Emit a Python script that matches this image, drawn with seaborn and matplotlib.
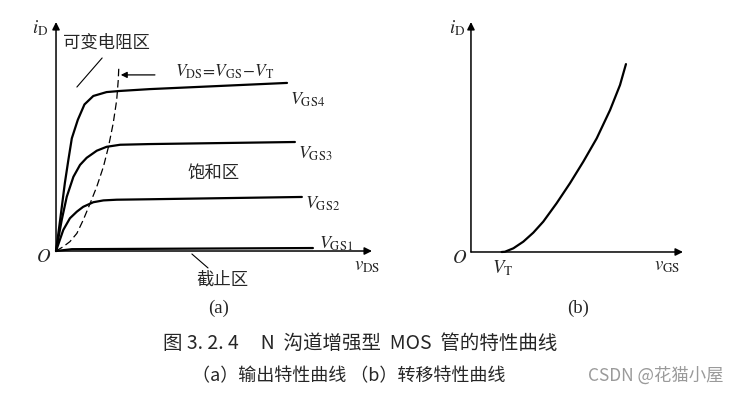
import numpy as np
import pandas as pd
import matplotlib.pyplot as plt
import seaborn as sns

# output characteristics (a): v_DS vs i_D
vds_gs4 = [0, 0.13, 0.28, 0.39, 0.50, 0.69, 0.90, 1.18, 1.60, 2.03, 2.97, 7.31]
id_gs4 = [0, 1.35, 2.97, 3.97, 4.92, 5.73, 6.40, 6.77, 6.94, 6.99, 7.07, 7.34]
vds_gs3 = [0, 0.18, 0.34, 0.55, 0.76, 0.97, 1.29, 1.60, 2.03, 2.97, 7.56]
id_gs3 = [0, 1.35, 2.37, 3.24, 3.76, 4.07, 4.38, 4.55, 4.64, 4.67, 4.76]
vds_gs2 = [0, 0.23, 0.44, 0.66, 0.86, 1.18, 1.50, 1.92, 2.97, 7.78]
id_gs2 = [0, 0.92, 1.43, 1.72, 1.93, 2.13, 2.21, 2.24, 2.26, 2.36]
vds_gs1 = [0, 0.5, 8.13]
id_gs1 = [0, 0.08, 0.13]
# boundary V_DS = V_GS - V_T (dashed)
vds_edge = [0, 0.23, 0.44, 0.66, 0.86, 1.08, 1.29, 1.50, 1.66, 1.81, 1.92, 1.97, 1.99]
id_edge = [0, 0.19, 0.41, 0.77, 1.35, 2.08, 2.81, 3.68, 4.55, 5.58, 6.59, 7.47, 8.12]
curve_labels = [r'$V_{\rm GS4}$', r'$V_{\rm GS3}$', r'$V_{\rm GS2}$', r'$V_{\rm GS1}$']

# transfer characteristic (b): v_GS vs i_D
vgs_tr = [1.45, 1.60, 2.00, 2.47, 2.94, 3.41, 4.04, 4.67, 5.30, 5.93, 6.56, 7.03, 7.31]
id_tr = [0, 0.01, 0.16, 0.45, 0.84, 1.32, 2.12, 2.99, 3.93, 4.94, 6.17, 7.26, 8.17]

sns.set_style('white')
plt.rcParams['mathtext.fontset'] = 'stix'
plt.rcParams['font.family'] = ['Noto Sans CJK SC', 'DejaVu Sans']
cjk = ['Noto Sans CJK SC', 'DejaVu Sans']
serif = ['Liberation Serif', 'DejaVu Serif']

fig = plt.figure(figsize=(7.39, 3.93), dpi=100)
ax1 = fig.add_axes([0.0758, 0.3613, 0.4276, 0.5827])
ax2 = fig.add_axes([0.6373, 0.3588, 0.2869, 0.5852])

for ax in (ax1, ax2):
    ax.set_xlim(0, 10)
    ax.set_ylim(0, 10)
    ax.axis('off')
    ax.annotate('', xy=(1, 0), xytext=(0, 0), xycoords='axes fraction',
                arrowprops=dict(arrowstyle='-|>', color='black', lw=1.1,
                                mutation_scale=11, shrinkA=0, shrinkB=0))
    ax.annotate('', xy=(0, 1), xytext=(0, 0), xycoords='axes fraction',
                arrowprops=dict(arrowstyle='-|>', color='black', lw=1.1,
                                mutation_scale=11, shrinkA=0, shrinkB=0))

# --- (a) output curves
curves = [(vds_gs4, id_gs4), (vds_gs3, id_gs3), (vds_gs2, id_gs2), (vds_gs1, id_gs1)]
for xs, ys in curves:
    sns.lineplot(x=xs, y=ys, ax=ax1, color='black', lw=1.6, sort=False,
                 estimator=None, clip_on=False)
sns.lineplot(x=vds_edge, y=id_edge, ax=ax1, color='black', lw=0.9, sort=False,
             estimator=None, linestyle=(0, (6, 3)), clip_on=False)

for (xs, ys), lab, dx, dy in zip(curves, curve_labels, [0.1, 0.1, 0.1, 0.2],
                                 [-0.75, -0.5, -0.3, 0.2]):
    ax1.text(xs[-1] + dx, ys[-1] + dy, lab, fontsize=13, va='center', ha='left')

ax1.annotate('', xy=(2.05, 7.69), xytext=(3.13, 7.69),
             arrowprops=dict(arrowstyle='-|>', color='black', lw=0.9,
                             mutation_scale=9, shrinkA=0, shrinkB=0))
ax1.text(3.77, 7.82, r'$V_{\rm DS}\!=\!V_{\rm GS}\!-\!V_{\rm T}$', fontsize=12.5,
         va='center', ha='left')
ax1.text(0.22, 9.08, '可变电阻区', fontsize=12.5, family=cjk, va='center', ha='left')
ax1.plot([0.66, 1.46], [7.16, 8.43], color='black', lw=0.8)
ax1.text(4.97, 3.41, '饱和区', fontsize=12.5, family=cjk, va='center', ha='center')
ax1.text(5.25, -1.27, '截止区', fontsize=12.5, family=cjk, va='center', ha='center')
ax1.plot([4.30, 4.81], [-0.13, -0.74], color='black', lw=0.8, clip_on=False)
ax1.text(-0.51, 9.74, r'$i_{\rm D}$', fontsize=13.5, va='center', ha='center')
ax1.text(-0.40, -0.26, r'$O$', fontsize=13.5, va='center', ha='center')
ax1.text(9.84, -0.61, r'$v_{\rm DS}$', fontsize=13.5, va='center', ha='center')
ax1.text(5.13, -2.49, '(a)', fontsize=13.5, family=serif, va='center', ha='center')

# --- (b) transfer curve
sns.lineplot(x=vgs_tr, y=id_tr, ax=ax2, color='black', lw=1.6, sort=False,
             estimator=None, clip_on=False)
ax2.text(-0.66, 9.74, r'$i_{\rm D}$', fontsize=13.5, va='center', ha='center')
ax2.text(-0.52, -0.22, r'$O$', fontsize=13.5, va='center', ha='center')
ax2.text(1.51, -0.70, r'$V_{\rm T}$', fontsize=13.5, va='center', ha='center')
ax2.text(9.25, -0.57, r'$v_{\rm GS}$', fontsize=13.5, va='center', ha='center')
ax2.text(5.05, -2.43, '(b)', fontsize=13.5, family=serif, va='center', ha='center')

# captions
fig.text(163 / 739, 1 - 343 / 393, '图 3. 2. 4     N  沟道增强型  MOS  管的特性曲线',
         fontsize=14, family=cjk, va='center', ha='left')
fig.text(192 / 739, 1 - 376 / 393, '（a）输出特性曲线 （b）转移特性曲线',
         fontsize=13, family=cjk, va='center', ha='left')
fig.text(723 / 739, 1 - 376 / 393, 'CSDN @花猫小屋', fontsize=12.5, family=cjk,
         color='#9a9a9a', va='center', ha='right')

fig.savefig('out.png', dpi=100)
